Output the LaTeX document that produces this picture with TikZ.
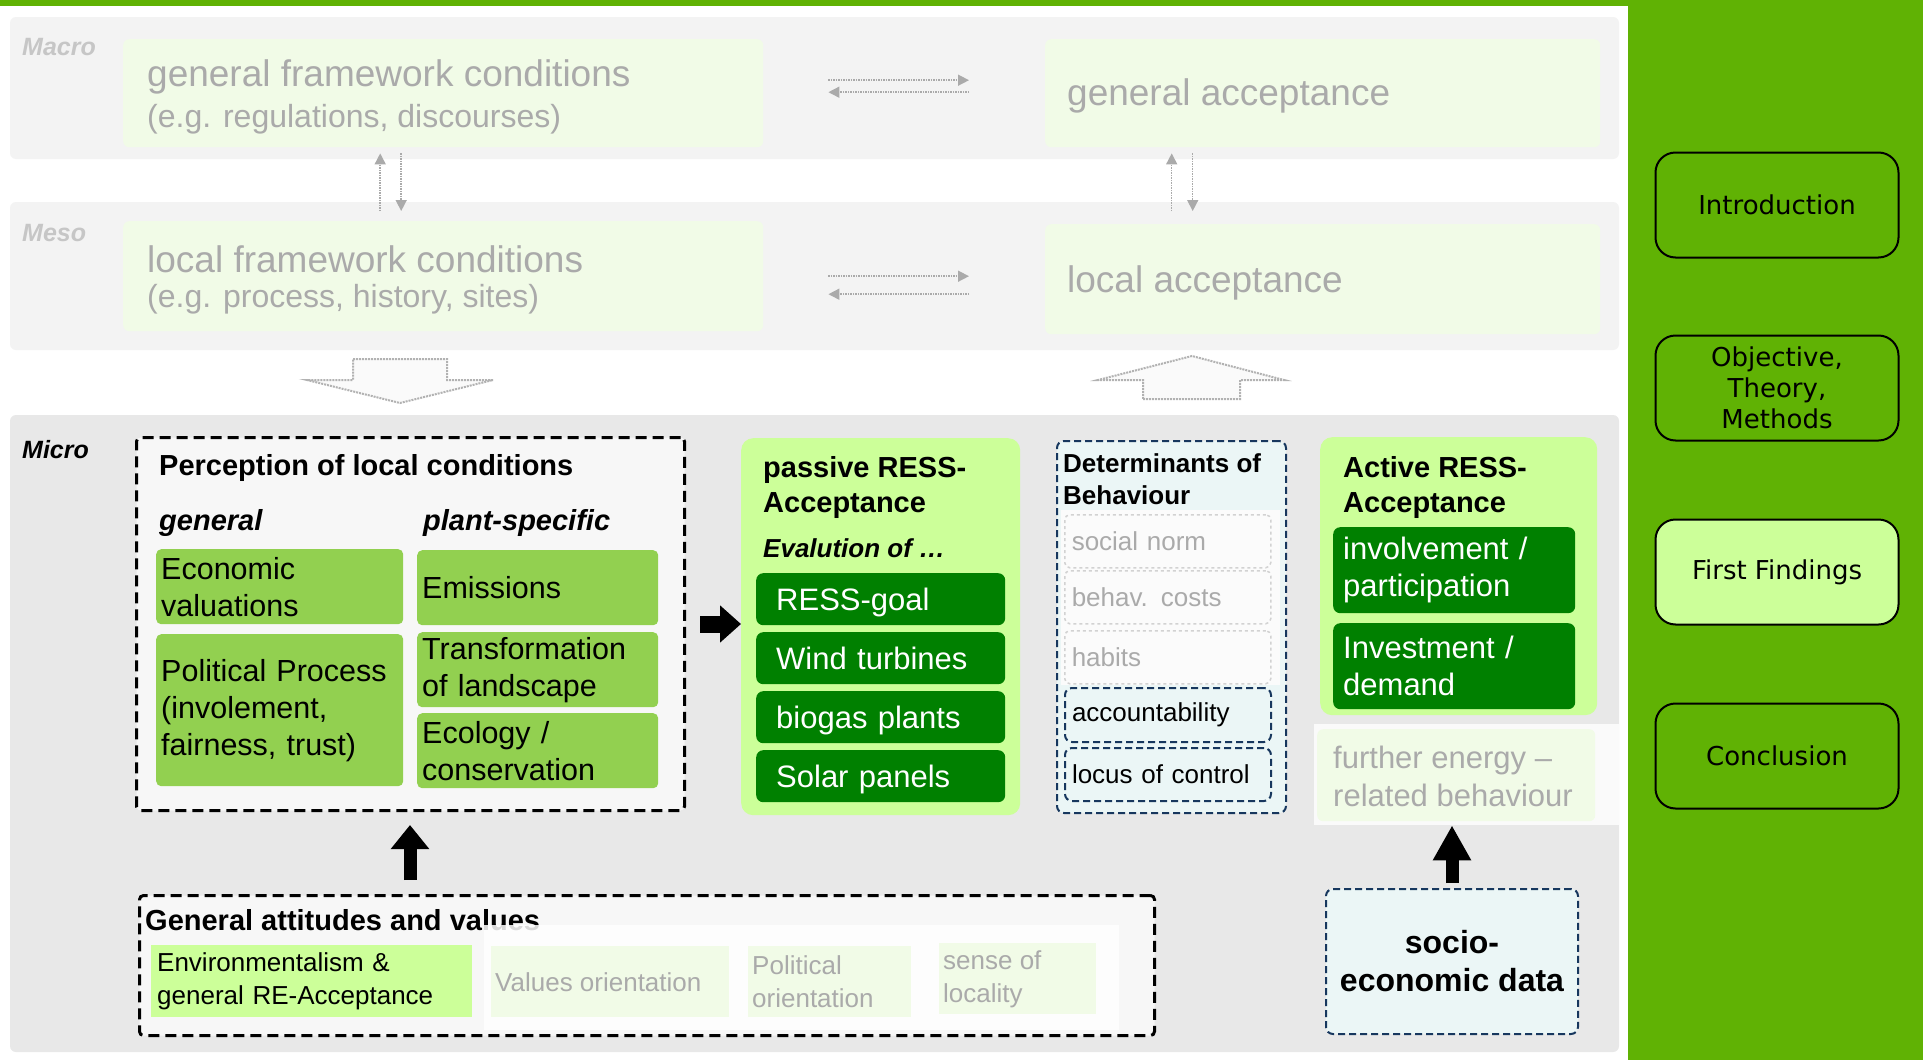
\documentclass[tikz,border=0pt]{standalone}
\usepackage{fontspec}
\setmainfont{Liberation Sans}
\newfontfamily\navfont{DejaVu Sans}
\usepackage{tikz}
\usetikzlibrary{arrows.meta,positioning}
\newcommand{\fsz}[2]{\fontsize{#1}{#2}\selectfont}
\definecolor{panelgreen}{RGB}{96,178,4}
\definecolor{medgreen}{RGB}{146,208,80}
\definecolor{lightgreen}{RGB}{204,255,153}
\definecolor{darkgreen}{RGB}{0,128,0}
\definecolor{bandgray}{RGB}{243,243,243}
\definecolor{microgray}{RGB}{232,232,232}
\definecolor{innergray}{RGB}{247,247,247}
\definecolor{fadegreen}{RGB}{241,251,231}
\definecolor{fadegray}{RGB}{170,170,170}
\definecolor{cyanfill}{RGB}{235,246,246}
\definecolor{dashblue}{RGB}{23,55,94}

\begin{document}
\begin{tikzpicture}[x=1pt,y=-1pt,
  band/.style={fill=bandgray,rounded corners=6pt},
  fadebox/.style={fill=fadegreen,rounded corners=6pt,anchor=north west,inner sep=0pt},
  fadetxt/.style={text=fadegray,anchor=west,align=left,inner sep=0pt},
  medbox/.style={fill=medgreen,rounded corners=5pt,anchor=north west,inner xsep=5pt,inner ysep=0pt,align=left,font=\fsz{30.5}{37}},
  darkbox/.style={fill=darkgreen,text=white,rounded corners=7pt,anchor=north west,inner ysep=0pt,align=left,font=\fsz{31}{37}},
  lightbox/.style={fill=lightgreen,rounded corners=12pt,anchor=north west,inner sep=0pt},
  blackdash/.style={draw=black,line width=3pt,dash pattern=on 11pt off 6pt,rounded corners=4pt,fill=innergray,anchor=north west,inner sep=0pt},
  bluedash/.style={draw=dashblue,line width=2pt,dash pattern=on 7pt off 4pt,rounded corners=7pt,fill=cyanfill,anchor=north west,inner sep=0pt},
  greydash/.style={draw=gray!35,line width=1.5pt,dash pattern=on 3pt off 3pt,rounded corners=5pt,fill=white!97!gray,anchor=north west,inner xsep=7pt,inner ysep=0pt,align=left,text=fadegray,font=\fsz{26}{31}},
  title/.style={anchor=west,align=left,inner sep=0pt,font=\bfseries\fsz{29}{35}},
  navbtn/.style={draw=black,line width=2pt,rounded corners=20pt,minimum width=243pt,minimum height=105pt,align=center,font=\navfont\fsz{26}{31}},
  blk/.style={line width=13pt},
  fadearr/.style={fadegray,line width=1.5pt,densely dotted,-{Triangle[length=11pt,width=11pt]}},
  hollow/.style={draw=gray!60,line width=2pt,densely dotted,fill=gray!4}
]
\useasboundingbox (0,0) rectangle (1923,1060);
\fill[white] (0,0) rectangle (1923,1060);

% Macro and Meso levels (greyed out)
\fill[band] (10,17) rectangle (1619,159);
\fill[band] (10,202) rectangle (1619,350);
\node[anchor=west,inner sep=0pt,text=gray!45,font=\bfseries\itshape\fsz{25}{30}] (macrolbl) at (22,47) {Macro};
\node[anchor=west,inner sep=0pt,text=gray!45,font=\bfseries\itshape\fsz{25}{30}] (mesolbl) at (22,233) {Meso};

\node[fadebox,minimum width=640pt,minimum height=108pt] (gfw) at (123,39) {};
\node[fadetxt,font=\fsz{37}{44}] (gfwtxt) at (147,77) {general framework conditions};
\node[fadetxt,font=\fsz{32}{38}] (gfweg) at (147,119) {(e.g. regulations, discourses)};
\node[fadebox,minimum width=555pt,minimum height=108pt] (gacc) at (1045,39) {};
\node[fadetxt,font=\fsz{37}{44}] (gacctxt) at (1067,96) {general acceptance};

\node[fadebox,minimum width=640pt,minimum height=110pt] (lfw) at (123,221) {};
\node[fadetxt,font=\fsz{37}{44}] (lfwtxt) at (147,259) {local framework conditions};
\node[fadetxt,font=\fsz{32}{38}] (lfweg) at (147,299) {(e.g. process, history, sites)};
\node[fadebox,minimum width=555pt,minimum height=110pt] (lacc) at (1045,224) {};
\node[fadetxt,font=\fsz{37}{44}] (lacctxt) at (1067,283) {local acceptance};

% dotted double arrows
\draw[fadearr,shorten <=65pt,shorten >=76pt] ([yshift=13pt]gfw.east) -- ([yshift=13pt]gfw.east -| gacc.west);
\draw[fadearr,shorten <=76pt,shorten >=65pt] ([yshift=1pt]gfw.east -| gacc.west) -- ([yshift=1pt]gfw.east);
\draw[fadearr,shorten <=65pt,shorten >=76pt] (lfw.east) -- (lfw.east -| lacc.west);
\draw[fadearr,shorten <=76pt,shorten >=65pt] ([yshift=-18pt]lfw.east -| lacc.west) -- ([yshift=-18pt]lfw.east);
\draw[fadearr,shorten <=10pt,shorten >=6pt] ([xshift=-63pt]lfw.north) -- ([xshift=-63pt]gfw.south);
\draw[fadearr,shorten <=6pt,shorten >=10pt] ([xshift=-42pt]gfw.south) -- ([xshift=-42pt]lfw.north);
\draw[fadearr,shorten <=13pt,shorten >=6pt] ([xshift=-151pt]lacc.north) -- ([xshift=-151pt]gacc.south);
\draw[fadearr,shorten <=6pt,shorten >=13pt] ([xshift=-130pt]gacc.south) -- ([xshift=-130pt]lacc.north);

% hollow block arrows
\draw[hollow] (353,359) -- (447,359) -- (447,380) -- (493,380) -- (400,403) -- (307,380) -- (353,380) -- cycle;
\draw[hollow] (1143,399) -- (1240,399) -- (1240,380) -- (1284,380) -- (1192,356) -- (1098,380) -- (1143,380) -- cycle;

% Micro level
\fill[microgray,rounded corners=6pt] (10,415) rectangle (1619,1052);
\node[anchor=west,inner sep=0pt,font=\bfseries\itshape\fsz{25}{30}] (microlbl) at (22,450) {Micro};

% perception of local conditions
\node[blackdash,minimum width=548pt,minimum height=373pt] (percep) at (135,436) {};
\node[title] (percepT) at (159,468) {Perception of local conditions};
\node[title,font=\bfseries\itshape\fsz{29}{35}] (genT) at (159,523) {general};
\node[title,font=\bfseries\itshape\fsz{29}{35}] (plantT) at (423,523) {plant-specific};
\node[medbox,minimum height=75pt,text width=237pt] (econ) at (156,549) {Economic\\valuations};
\node[medbox,minimum height=152pt,text width=237pt] (polit) at (156,634) {Political Process\\(involement,\\fairness, trust)};
\node[medbox,minimum height=75pt,text width=231pt] (emis) at (417,550) {Emissions};
\node[medbox,minimum height=75pt,text width=231pt] (transf) at (417,632) {Transformation\\of landscape};
\node[medbox,minimum height=75pt,text width=231pt] (ecol) at (417,713) {Ecology /\\conservation};

% passive acceptance
\node[lightbox,minimum width=279pt,minimum height=377pt] (passive) at (741,438) {};
\node[title] (passT) at (763,487) {passive RESS-\\Acceptance};
\node[title,font=\bfseries\itshape\fsz{26}{31}] (evalT) at (763,548) {Evalution of \ldots};
\foreach \nm/\yy/\txt in {goal/573/RESS-goal,wind/632/Wind turbines,biogas/691/biogas plants,solar/750/Solar panels}
  \node[darkbox,minimum height=52pt,text width=209pt,text depth=0pt,inner xsep=20pt] (\nm) at (756,\yy) {\txt};

% determinants of behaviour
\node[bluedash,minimum width=229pt,minimum height=372pt] (detbox) at (1056,440) {};
\node[title,font=\bfseries\fsz{26}{32}] (detT) at (1063,479) {Determinants of\\Behaviour};
\fill[white!97!gray] (1061,510) rectangle (1280,685);
\foreach \nm/\yy/\txt in {social/514/social norm,behav/570/behav. costs,habits/630/habits}
  \node[greydash,minimum height=53pt,text width=192pt] (\nm) at (1064,\yy) {\txt};
\node[bluedash,minimum height=54pt,text width=192pt,inner xsep=7pt,align=left,font=\fsz{26}{31}] (account) at (1064,687) {accountability};
\node[bluedash,minimum height=53pt,text width=192pt,inner xsep=7pt,align=left,font=\fsz{26}{31}] (locus) at (1064,747) {locus of control};

% active acceptance
\node[lightbox,minimum width=277pt,minimum height=278pt] (active) at (1320,437) {};
\node[title] (actT) at (1343,487) {Active RESS-\\Acceptance};
\node[darkbox,minimum height=86pt,text width=222pt,inner xsep=10pt] (involve) at (1333,527) {involvement /\\participation};
\node[darkbox,minimum height=86pt,text width=222pt,inner xsep=10pt] (invest) at (1333,623) {Investment /\\demand};

% further behaviour (greyed out)
\node[fill=white!96!gray,anchor=north west,inner sep=0pt,minimum width=305pt,minimum height=101pt] (furtherbg) at (1314,724) {};
\node[fadebox,minimum width=278pt,minimum height=92pt] (further) at (1317,729) {};
\node[fadetxt,font=\fsz{31}{38}] (furthertxt) at (1333,776) {further energy --\\related behaviour};

% socio-economic data
\node[bluedash,minimum width=252pt,minimum height=145pt,align=center,font=\bfseries\fsz{32}{38}] (socio) at (1325,888) {socio-\\economic data};

% general attitudes and values
\node[blackdash,minimum width=1015pt,minimum height=140pt] (attit) at (138,894) {};
\node[title] (attT) at (145,920) {General attitudes and values};
\fill[white,opacity=0.85] (484,925) rectangle (1119,1030);
\node[fill=lightgreen,anchor=north west,inner xsep=6pt,inner ysep=0pt,minimum height=72pt,text width=309pt,align=left,font=\fsz{26}{33}] (envir) at (151,945) {Environmentalism \&\\general RE-Acceptance};
\node[fadebox,rounded corners=0pt,minimum width=238pt,minimum height=71pt] (valor) at (491,946) {};
\node[fadetxt,font=\fsz{26}{33}] (valortxt) at (495,982) {Values orientation};
\node[fadebox,rounded corners=0pt,minimum width=163pt,minimum height=71pt] (polor) at (748,946) {};
\node[fadetxt,font=\fsz{26}{33}] (polortxt) at (752,982) {Political\\orientation};
\node[fadebox,rounded corners=0pt,minimum width=157pt,minimum height=71pt] (local) at (939,943) {};
\node[fadetxt,font=\fsz{26}{33}] (localtxt) at (943,979) {sense of\\locality};

% black arrows
\draw[blk,line width=17pt,-{Triangle[length=21pt,width=36pt]}] ([xshift=14pt]percep.east) -- (percep.east -| passive.west);
\coordinate (attup) at (410,880);
\draw[blk,-{Triangle[length=24pt,width=37pt]},shorten >=13pt] (attup) -- (attup |- percep.south);
\draw[blk,-{Triangle[length=35pt,width=36pt]},shorten <=5pt] (socio.north) -- (socio.north |- furtherbg.south);

% navigation panel
\fill[panelgreen] (0,0) rectangle (1923,6);
\fill[panelgreen] (1628,0) rectangle (1923,1060);
\foreach \nm/\yy/\fl/\txt in {intro/205/panelgreen/Introduction,obj/388/panelgreen/{Objective,\\Theory,\\Methods},findings/572/lightgreen/First Findings,concl/756/panelgreen/Conclusion}
  \node[navbtn,fill=\fl] (\nm) at (1777,\yy) {\txt};
\end{tikzpicture}
\end{document}
